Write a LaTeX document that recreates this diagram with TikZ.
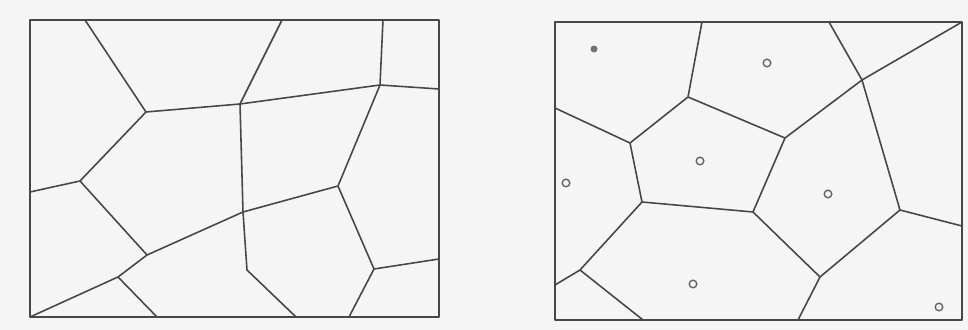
\documentclass[tikz,border=0pt]{standalone}
\usepackage{tikz}
\usetikzlibrary{calc}
\tikzset{edge/.style={draw=black!72,line width=0.9pt,line join=round},
	site/.style={draw=black!60,line width=0.8pt}}
\begin{document}
\begin{tikzpicture}[x=0.02cm,y=-0.02cm]
	\fill[black!4](0,0)rectangle(968,330);
	\useasboundingbox(0,0)rectangle(968,330);
	% left subdivision
	\draw[edge](30,20)rectangle(439,317);
	\coordinate(v1)at(146,112); \coordinate(v2)at(240,104); \coordinate(v3)at(380,85);
	\coordinate(v4)at(338,186); \coordinate(v5)at(374,269); \coordinate(v6)at(147,255);
	\coordinate(v7)at(243,212); \coordinate(v8)at(80,181); \coordinate(v9)at(118,277);
	\coordinate(v10)at(247,270);
	\draw[edge](85,20)--(v1)--(v2)--(v3)--(383,20) (v3)--(439,89);
	\draw[edge](v1)--(v8)--(30,192) (v8)--(v6)--(v9)--(30,317) (v9)--(157,317);
	\draw[edge](282,20)--(v2)--(v7)--(v10)--(296,317);
	\draw[edge](v6)--(v7)--(v4)--(v3) (v4)--(v5)--(439,259) (v5)--(349,317);
	% right subdivision
	\draw[edge](555,22)rectangle(962,320);
	\coordinate(w1)at(688,97); \coordinate(w2)at(630,143); \coordinate(w3)at(642,202);
	\coordinate(w4)at(785,138); \coordinate(w5)at(862,80); \coordinate(w6)at(900,210);
	\coordinate(w7)at(820,277); \coordinate(w8)at(753,212); \coordinate(w9)at(580,270);
	\draw[edge](702,22)--(w1)--(w2)--(555,108) (w2)--(w3)--(w8)--(w4)--(w1);
	\draw[edge](829,22)--(w5)--(962,22) (w4)--(w5)--(w6)--(962,226);
	\draw[edge](w6)--(w7)--(798,320) (w7)--(w8);
	\draw[edge](w3)--(w9)--(555,285) (w9)--(643,320);
	\fill[black!55](594,49)circle(3.5);
	\foreach \p in {(700,161),(767,63),(566,183),(693,284),(828,194),(939,307)}
		\draw[site]\p circle(3.8);
\end{tikzpicture}
\end{document}
